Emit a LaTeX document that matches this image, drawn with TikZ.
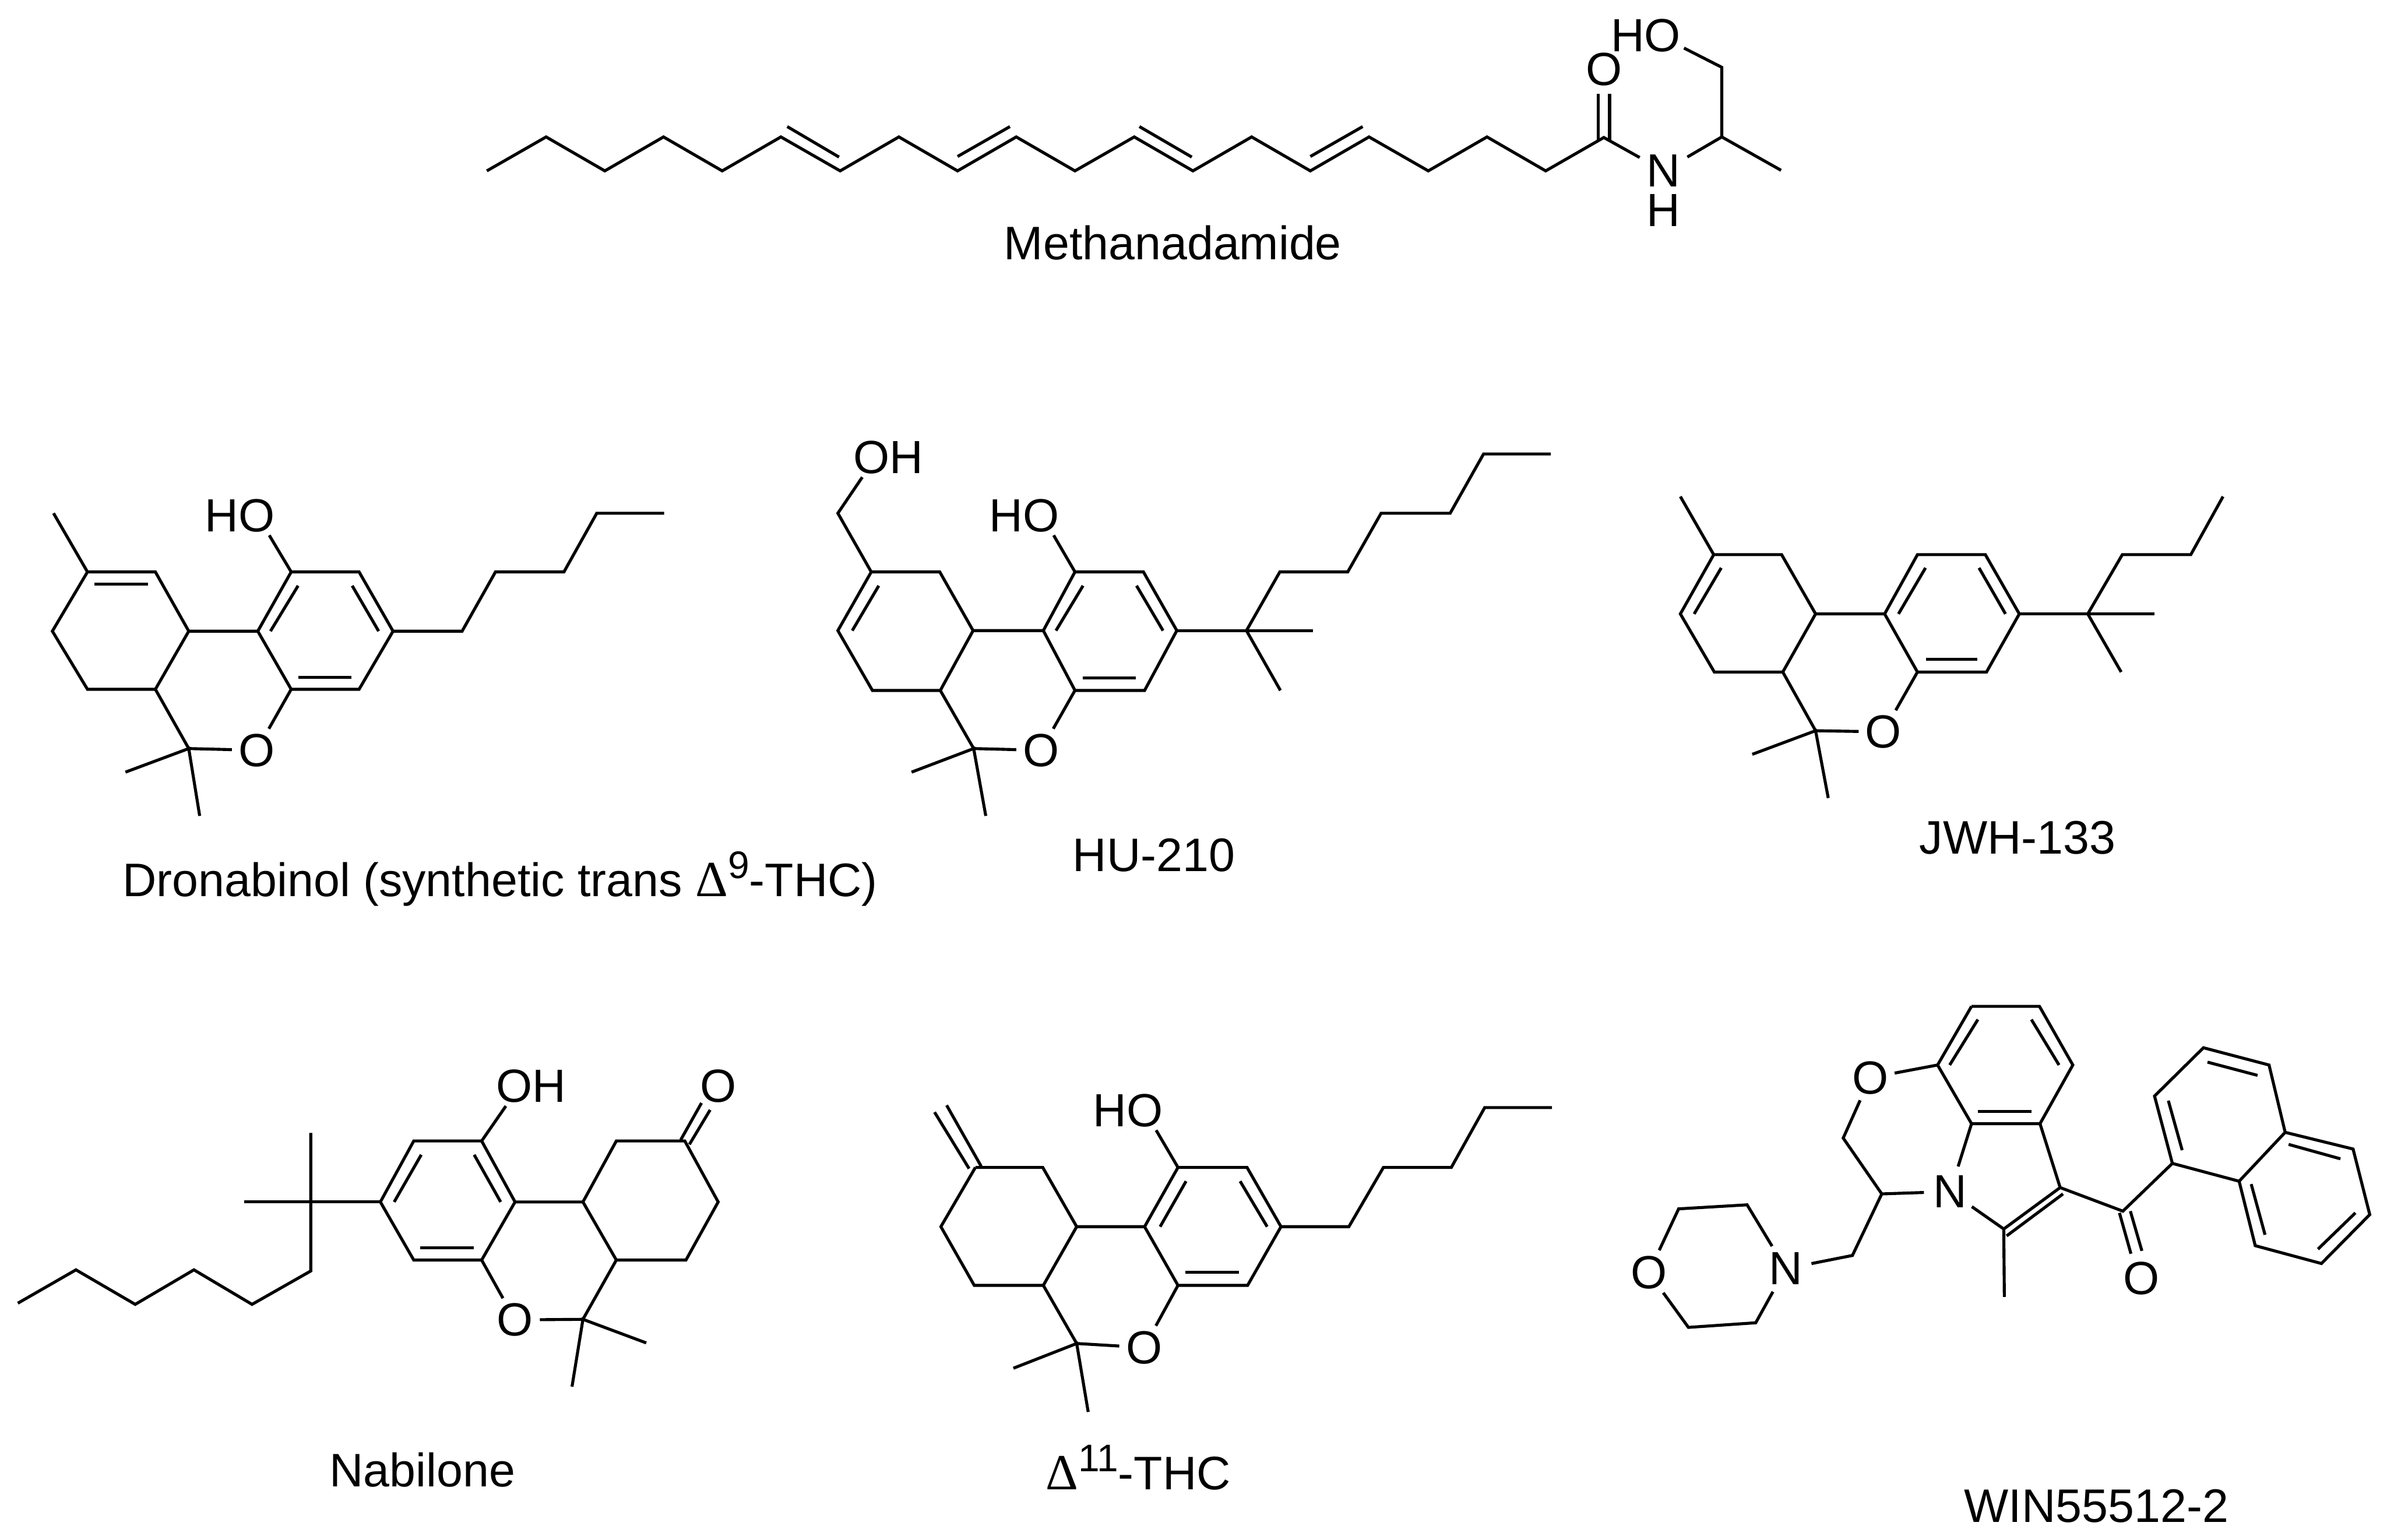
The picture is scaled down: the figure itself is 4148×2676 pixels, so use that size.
\documentclass[tikz,border=0pt]{standalone}
\usepackage{fontspec}
\setmainfont{Liberation Sans}
\newfontfamily\deltafont{Liberation Serif}
\newcommand{\deltanum}[1]{{\fontsize{25}{25}\deltafont Δ}\raisebox{8.9pt}{\fontsize{19}{19}\selectfont #1}}

\begin{document}
\begin{tikzpicture}[x=0.01cm,y=-0.01cm]
\tikzstyle{bond}=[line width=0.052cm]
\tikzstyle{atom label}=[circle,inner sep=0pt,minimum size=0.84cm,font=\fontsize{23}{23}\selectfont]
\tikzstyle{group label}=[inner sep=0.05cm,font=\fontsize{23}{23}\selectfont]
\tikzstyle{drug label}=[anchor=base,inner sep=0pt,font=\fontsize{23.25}{23.25}\selectfont]
\useasboundingbox (0,0) rectangle (4148,2676);

% Methanadamide
\coordinate (m0) at (846,297);
\coordinate (m1) at (949,238);
\coordinate (m2) at (1051,297);
\coordinate (m3) at (1153,238);
\coordinate (m4) at (1255,297);
\coordinate (m5) at (1357,238);
\coordinate (m6) at (1460,297);
\coordinate (m7) at (1562,238);
\coordinate (m8) at (1664,297);
\coordinate (m9) at (1766,238);
\coordinate (m10) at (1868,297);
\coordinate (m11) at (1971,238);
\coordinate (m12) at (2073,297);
\coordinate (m13) at (2175,238);
\coordinate (m14) at (2277,297);
\coordinate (m15) at (2379,238);
\coordinate (m16) at (2482,297);
\coordinate (m17) at (2584,238);
\coordinate (m18) at (2686,297);
\coordinate (m19) at (2787,239);
\coordinate (mCH) at (2992,238);
\coordinate (mCH2) at (2992,117);
\coordinate (mMe) at (3095,296);
\node[atom label] (mO) at (2787,121) {O};
\node[atom label,minimum size=0.94cm] (mN) at (2891,297) {N};
\node[group label] (mH) at (2891,366) {H};
\node[group label] (mHO) at (2860,62) {HO};
\node[drug label] (mName) at (2038,451) {Methanadamide};
\draw[bond] (m0) -- (m1) -- (m2) -- (m3) -- (m4) -- (m5) -- (m6) -- (m7) -- (m8) -- (m9) -- (m10) -- (m11) -- (m12) -- (m13) -- (m14) -- (m15) -- (m16) -- (m17) -- (m18) -- (m19) -- (mN);
\draw[bond] (mN) -- (mCH) -- (mMe);
\draw[bond] (mCH) -- (mCH2) -- (mHO.-18.5);
\draw[bond] (1368,220) -- (1458,273);
\draw[bond] (1664,272) -- (1755,220);
\draw[bond] (1980,220) -- (2071,273);
\draw[bond] (2277,272) -- (2368,220);
\draw[bond] (2777,163) -- (2777,245);
\draw[bond] (2797,163) -- (2797,243);

% Dronabinol
\coordinate (dMe) at (93,892);
\coordinate (dR1) at (152,994);
\coordinate (dR2) at (270,994);
\coordinate (dR3) at (328,1097);
\coordinate (dR4) at (270,1198);
\coordinate (dR5) at (152,1198);
\coordinate (dR6) at (91,1097);
\coordinate (dA1) at (448,1097);
\coordinate (dA2) at (506,994);
\coordinate (dA3) at (624,994);
\coordinate (dA4) at (683,1097);
\coordinate (dA5) at (624,1198);
\coordinate (dA6) at (506,1198);
\coordinate (dQ) at (328,1301);
\coordinate (dQ1) at (218,1342);
\coordinate (dQ2) at (347,1418);
\coordinate (dC1) at (803,1097);
\coordinate (dC2) at (861,994);
\coordinate (dC3) at (980,994);
\coordinate (dC4) at (1037,892);
\coordinate (dC5) at (1154,892);
\node[group label] (dHO) at (417,896) {HO};
\node[atom label] (dO) at (446,1304) {O};
\node[drug label] (dName) at (869,1558) {Dronabinol (synthetic trans \deltanum{9}-THC)};
\draw[bond] (dMe) -- (dR1) -- (dR2) -- (dR3) -- (dR4) -- (dR5) -- (dR6) -- (dR1);
\draw[bond] (dR3) -- (dA1) -- (dA2) -- (dA3) -- (dA4) -- (dA5) -- (dA6) -- (dA1);
\draw[bond] (dA2) -- (dHO.-34);
\draw[bond] (dR4) -- (dQ) -- (dO) -- (dA6);
\draw[bond] (dQ1) -- (dQ) -- (dQ2);
\draw[bond] (dA4) -- (dC1) -- (dC2) -- (dC3) -- (dC4) -- (dC5);
\draw[bond] (164,1015) -- (257,1015);
\draw[bond] (518,1018) -- (470,1097);
\draw[bond] (612,1018) -- (658,1097);
\draw[bond] (518,1177) -- (611,1177);

% HU-210
\coordinate (hCH2) at (1456,892);
\coordinate (hR1) at (1514,994);
\coordinate (hR2) at (1633,994);
\coordinate (hR3) at (1691,1096);
\coordinate (hR4) at (1634,1200);
\coordinate (hR5) at (1516,1200);
\coordinate (hR6) at (1456,1096);
\coordinate (hA1) at (1813,1096);
\coordinate (hA2) at (1868,994);
\coordinate (hA3) at (1987,994);
\coordinate (hA4) at (2045,1096);
\coordinate (hA5) at (1989,1200);
\coordinate (hA6) at (1868,1200);
\coordinate (hQ) at (1692,1301);
\coordinate (hQ1) at (1584,1342);
\coordinate (hQ2) at (1713,1418);
\coordinate (hT) at (2166,1096);
\coordinate (hT1) at (2282,1096);
\coordinate (hT2) at (2225,1200);
\coordinate (hC1) at (2224,994);
\coordinate (hC2) at (2342,994);
\coordinate (hC3) at (2400,892);
\coordinate (hC4) at (2520,892);
\coordinate (hC5) at (2578,789);
\coordinate (hC6) at (2695,789);
\node[group label] (hOH) at (1544,795) {OH};
\node[group label] (hHO) at (1780,896) {HO};
\node[atom label] (hO) at (1809,1304) {O};
\node[drug label] (hName) at (2005,1514) {HU-210};
\draw[bond] (hOH.-143.6) -- (hCH2) -- (hR1) -- (hR2) -- (hR3) -- (hR4) -- (hR5) -- (hR6) -- (hR1);
\draw[bond] (hR3) -- (hA1) -- (hA2) -- (hA3) -- (hA4) -- (hA5) -- (hA6) -- (hA1);
\draw[bond] (hA2) -- (hHO.-34);
\draw[bond] (hR4) -- (hQ) -- (hO) -- (hA6);
\draw[bond] (hQ1) -- (hQ) -- (hQ2);
\draw[bond] (hA4) -- (hT) -- (hT1);
\draw[bond] (hT2) -- (hT) -- (hC1) -- (hC2) -- (hC3) -- (hC4) -- (hC5) -- (hC6);
\draw[bond] (1527,1018) -- (1481,1096);
\draw[bond] (1882,1018) -- (1835,1096);
\draw[bond] (1975,1018) -- (2021,1096);
\draw[bond] (1882,1178) -- (1974,1178);

% JWH-133
\coordinate (jMe) at (2920,863);
\coordinate (jR1) at (2978,964);
\coordinate (jR2) at (3096,964);
\coordinate (jR3) at (3155,1067);
\coordinate (jR4) at (3098,1168);
\coordinate (jR5) at (2979,1168);
\coordinate (jR6) at (2920,1067);
\coordinate (jA1) at (3275,1067);
\coordinate (jA2) at (3332,964);
\coordinate (jA3) at (3450,964);
\coordinate (jA4) at (3509,1067);
\coordinate (jA5) at (3452,1168);
\coordinate (jA6) at (3332,1168);
\coordinate (jQ) at (3155,1270);
\coordinate (jQ1) at (3045,1311);
\coordinate (jQ2) at (3177,1387);
\coordinate (jT) at (3628,1067);
\coordinate (jT1) at (3744,1067);
\coordinate (jT2) at (3686,1168);
\coordinate (jC1) at (3688,964);
\coordinate (jC2) at (3807,964);
\coordinate (jC3) at (3863,863);
\node[atom label] (jO) at (3273,1272) {O};
\node[drug label] (jName) at (3506,1484) {JWH-133};
\draw[bond] (jMe) -- (jR1) -- (jR2) -- (jR3) -- (jR4) -- (jR5) -- (jR6) -- (jR1);
\draw[bond] (jR3) -- (jA1) -- (jA2) -- (jA3) -- (jA4) -- (jA5) -- (jA6) -- (jA1);
\draw[bond] (jR4) -- (jQ) -- (jO) -- (jA6);
\draw[bond] (jQ1) -- (jQ) -- (jQ2);
\draw[bond] (jA4) -- (jT) -- (jT1);
\draw[bond] (jT2) -- (jT) -- (jC1) -- (jC2) -- (jC3);
\draw[bond] (2991,987) -- (2944,1067);
\draw[bond] (3346,987) -- (3299,1067);
\draw[bond] (3439,987) -- (3485,1067);
\draw[bond] (3347,1146) -- (3436,1146);

% Nabilone
\coordinate (nA1) at (895,2089);
\coordinate (nA2) at (837,1983);
\coordinate (nA3) at (719,1983);
\coordinate (nA4) at (661,2089);
\coordinate (nA5) at (719,2190);
\coordinate (nA6) at (837,2190);
\coordinate (nR1) at (1190,1983);
\coordinate (nR2) at (1071,1983);
\coordinate (nR3) at (1013,2089);
\coordinate (nR4) at (1071,2190);
\coordinate (nR5) at (1192,2190);
\coordinate (nR6) at (1248,2089);
\coordinate (nQ) at (1013,2293);
\coordinate (nQ1) at (1123,2334);
\coordinate (nQ2) at (994,2410);
\coordinate (nT) at (540,2089);
\coordinate (nT1) at (424,2089);
\coordinate (nT2) at (540,1969);
\coordinate (nC1) at (540,2209);
\coordinate (nC2) at (438,2267);
\coordinate (nC3) at (337,2207);
\coordinate (nC4) at (235,2267);
\coordinate (nC5) at (132,2207);
\coordinate (nC6) at (31,2265);
\node[group label] (nOH) at (923,1888) {OH};
\node[atom label] (nOk) at (1248,1888) {O};
\node[atom label] (nO) at (895,2294) {O};
\node[drug label] (nName) at (734,2584) {Nabilone};
\draw[bond] (nA1) -- (nA2) -- (nA3) -- (nA4) -- (nA5) -- (nA6) -- (nA1);
\draw[bond] (nA1) -- (nR3) -- (nR2) -- (nR1) -- (nR6) -- (nR5) -- (nR4) -- (nR3);
\draw[bond] (nA2) -- (nOH.-142.8);
\draw[bond] (nR4) -- (nQ) -- (nO) -- (nA6);
\draw[bond] (nQ1) -- (nQ) -- (nQ2);
\draw[bond] (nA4) -- (nT) -- (nT1);
\draw[bond] (nT2) -- (nT) -- (nC1) -- (nC2) -- (nC3) -- (nC4) -- (nC5) -- (nC6);
\draw[bond] (732,2007) -- (685,2089);
\draw[bond] (824,2007) -- (870,2089);
\draw[bond] (730,2169) -- (823,2169);
\draw[bond] (1183,1981) -- (1219,1917);
\draw[bond] (1198,1989) -- (1234,1929);

% Delta 11
\coordinate (tR1) at (1695,2029);
\coordinate (tR2) at (1812,2029);
\coordinate (tR3) at (1871,2132);
\coordinate (tR4) at (1813,2234);
\coordinate (tR5) at (1693,2234);
\coordinate (tR6) at (1635,2132);
\coordinate (tA1) at (1989,2132);
\coordinate (tA2) at (2047,2029);
\coordinate (tA3) at (2167,2029);
\coordinate (tA4) at (2226,2132);
\coordinate (tA5) at (2168,2234);
\coordinate (tA6) at (2047,2234);
\coordinate (tQ) at (1871,2335);
\coordinate (tQ1) at (1761,2378);
\coordinate (tQ2) at (1891,2454);
\coordinate (tC1) at (2344,2132);
\coordinate (tC2) at (2404,2029);
\coordinate (tC3) at (2522,2029);
\coordinate (tC4) at (2580,1925);
\coordinate (tC5) at (2697,1925);
\node[group label] (tHO) at (1960,1930) {HO};
\node[atom label] (tO) at (1988,2342) {O};
\node[drug label] (tName) at (1978,2589) {\deltanum{11}-THC};
\draw[bond] (tR1) -- (tR2) -- (tR3) -- (tR4) -- (tR5) -- (tR6) -- (tR1);
\draw[bond] (tR3) -- (tA1) -- (tA2) -- (tA3) -- (tA4) -- (tA5) -- (tA6) -- (tA1);
\draw[bond] (tA2) -- (tHO.-35.7);
\draw[bond] (tR4) -- (tQ) -- (tO) -- (tA6);
\draw[bond] (tQ1) -- (tQ) -- (tQ2);
\draw[bond] (tA4) -- (tC1) -- (tC2) -- (tC3) -- (tC4) -- (tC5);
\draw[bond] (1624,1933) -- (1684,2031);
\draw[bond] (1645,1921) -- (1705,2027);
\draw[bond] (2061,2053) -- (2016,2132);
\draw[bond] (2155,2053) -- (2202,2132);
\draw[bond] (2060,2211) -- (2153,2211);

% WIN55512-2
\coordinate (wB1) at (3426,1749);
\coordinate (wB2) at (3544,1749);
\coordinate (wB3) at (3602,1851);
\coordinate (wB4) at (3545,1953);
\coordinate (wB5) at (3426,1953);
\coordinate (wB6) at (3367,1851);
\coordinate (wCH2) at (3203,1978);
\coordinate (wCH) at (3270,2075);
\coordinate (wC2) at (3482,2136);
\coordinate (wC3) at (3580,2064);
\coordinate (wMe) at (3483,2254);
\coordinate (wCO) at (3689,2105);
\coordinate (wK1) at (3775,2022);
\coordinate (wK2) at (3744,1905);
\coordinate (wK3) at (3829,1821);
\coordinate (wK4) at (3943,1851);
\coordinate (wK5) at (3971,1968);
\coordinate (wK6) at (3891,2053);
\coordinate (wK7) at (4089,1997);
\coordinate (wK8) at (4118,2111);
\coordinate (wK9) at (4034,2196);
\coordinate (wK10) at (3919,2165);
\coordinate (wCm) at (3219,2182);
\coordinate (wM1) at (3036,2094);
\coordinate (wM2) at (2917,2101);
\coordinate (wM3) at (2934,2307);
\coordinate (wM4) at (3051,2299);
\node[atom label] (wO) at (3250,1873) {O};
\node[atom label,minimum size=0.9cm] (wN) at (3389,2071) {N};
\node[atom label] (wOk) at (3721,2222) {O};
\node[atom label,minimum size=0.9cm] (wNm) at (3103,2205) {N};
\node[atom label] (wOm) at (2865,2212) {O};
\node[drug label] (wName) at (3643,2646) {WIN55512-2};
\draw[bond] (wB1) -- (wB2) -- (wB3) -- (wB4) -- (wB5) -- (wB6) -- (wB1);
\draw[bond] (wB6) -- (wO) -- (wCH2) -- (wCH) -- (wN) -- (wB5);
\draw[bond] (wN) -- (wC2) -- (wC3) -- (wB4);
\draw[bond] (wC2) -- (wMe);
\draw[bond] (wC3) -- (wCO) -- (wK1);
\draw[bond] (wK1) -- (wK2) -- (wK3) -- (wK4) -- (wK5) -- (wK6) -- (wK1);
\draw[bond] (wK5) -- (wK7) -- (wK8) -- (wK9) -- (wK10) -- (wK6);
\draw[bond] (wCH) -- (wCm) -- (wNm);
\draw[bond] (wNm) -- (wM1) -- (wM2) -- (wOm) -- (wM3) -- (wM4) -- (wNm);
\draw[bond] (3437,1772) -- (3388,1851);
\draw[bond] (3530,1772) -- (3578,1851);
\draw[bond] (3437,1932) -- (3530,1932);
\draw[bond] (3487,2148) -- (3585,2075);
\draw[bond] (3683,2108) -- (3703,2179);
\draw[bond] (3702,2105) -- (3722,2174);
\draw[bond] (3768,1913) -- (3792,1999);
\draw[bond] (3836,1846) -- (3923,1869);
\draw[bond] (3977,1989) -- (4067,2014);
\draw[bond] (4093,2108) -- (4028,2171);
\draw[bond] (3936,2146) -- (3912,2058);
\end{tikzpicture}
\end{document}
